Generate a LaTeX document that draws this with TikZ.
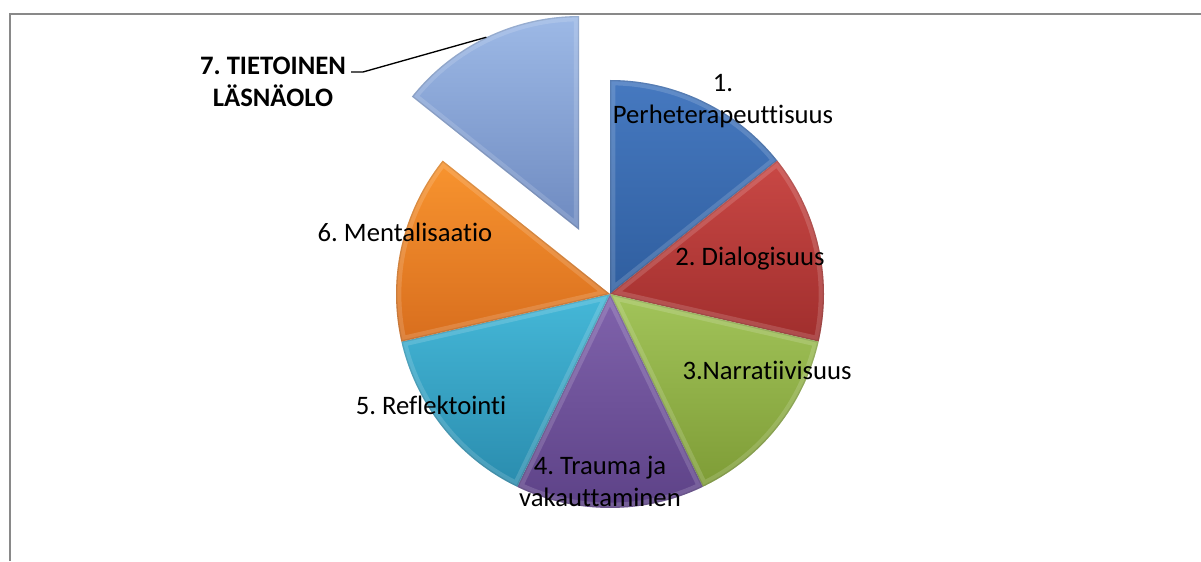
\documentclass[tikz,border=0pt]{standalone}
\usepackage{fontspec}
\setmainfont{Carlito}[Ligatures=NoCommon]
\frenchspacing
\usetikzlibrary{calc}
\definecolor{frame}{HTML}{898989}
\definecolor{bluetop}{HTML}{4679C0}\definecolor{bluebot}{HTML}{2F5E9F}
\definecolor{redtop}{HTML}{C94845}\definecolor{redbot}{HTML}{A02E2D}
\definecolor{greentop}{HTML}{A2C45A}\definecolor{greenbot}{HTML}{7E9C36}
\definecolor{purtop}{HTML}{8063AC}\definecolor{purbot}{HTML}{5C4186}
\definecolor{cyantop}{HTML}{45B8D8}\definecolor{cyanbot}{HTML}{2A8CAE}
\definecolor{ortop}{HTML}{F8942F}\definecolor{orbot}{HTML}{D86E1E}
\definecolor{lbtop}{HTML}{9DB9E6}\definecolor{lbbot}{HTML}{6E8AC0}
\newcommand\pieslice[5]{%
  \path[top color=#3, bottom color=#4] (#5) -- ($(#5)+(#1:160.5pt)$) arc[start angle=#1, end angle=#2, radius=160.5pt] -- cycle;
  \begin{scope}
    \clip (#5) -- ($(#5)+(#1:160.5pt)$) arc[start angle=#1, end angle=#2, radius=160.5pt] -- cycle;
    \draw[white, opacity=.15, line width=8pt, line join=round] (#5) -- ($(#5)+(#1:160.5pt)$) arc[start angle=#1, end angle=#2, radius=160.5pt] -- cycle;
    \draw[black, opacity=.10, line width=2pt, line join=round] (#5) -- ($(#5)+(#1:160.5pt)$) arc[start angle=#1, end angle=#2, radius=160.5pt] -- cycle;
  \end{scope}}
\begin{document}
\begin{tikzpicture}[x=0.75pt, y=0.75pt,
  lbl/.style={font=\fontsize{20}{24}\selectfont, align=center, inner sep=0pt},
  lblbold/.style={lbl, font=\fontsize{20}{24}\selectfont\bfseries},
  leader/.style={black, line width=1pt},
  framed/.style={frame, line width=1pt}]
\useasboundingbox (0,0) rectangle (1201,561);
% frame (top and left edges visible)
\draw[framed] (10,0) -- (10,547) -- (1201,547);
% pie
\coordinate (c) at (610,267);
\coordinate (ec) at ($(c)+(115.714:53.25pt)$);
\pieslice{90}{38.571}{bluetop}{bluebot}{c}
\pieslice{38.571}{-12.857}{redtop}{redbot}{c}
\pieslice{-12.857}{-64.286}{greentop}{greenbot}{c}
\pieslice{-64.286}{-115.714}{purtop}{purbot}{c}
\pieslice{-115.714}{-167.143}{cyantop}{cyanbot}{c}
\pieslice{-167.143}{-218.571}{ortop}{orbot}{c}
\pieslice{141.429}{90}{lbtop}{lbbot}{ec}
% labels
\node[lbl] (l1) at (723,460) {1.\\Perheterapeuttisuus};
\node[lbl] (l2) at (750,302) {2. Dialogisuus};
\node[lbl] (l3) at (767,191) {3.Narratiivisuus};
\node[lbl] (l4) at (600,80) {4. Trauma ja\\vakauttaminen};
\node[lbl] (l5) at (431,156) {5. Reflektointi};
\node[lbl] (l6) at (405,329) {6. Mentalisaatio};
\node[lblbold] (l7) at (273,479.5) {7. TIETOINEN\\LÄSNÄOLO};
% leader
\coordinate (k7s) at (351,489);
\coordinate (k7) at (363,489);
\coordinate (p7) at ($(ec)+(115.714:160.5pt)$);
\draw[leader] (k7s) -- (k7) -- (p7);
\end{tikzpicture}
\end{document}
